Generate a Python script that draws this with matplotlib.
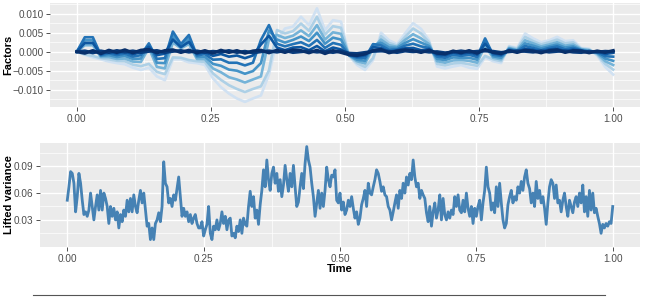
import numpy as np
import matplotlib
matplotlib.use("Agg")
import matplotlib.pyplot as plt
from matplotlib.lines import Line2D

plt.rcParams['font.family'] = ['Liberation Sans', 'DejaVu Sans']

# ---------------- top panel: factors (values in thousandths) ----------------
factor_1 = [0.0, -0.8, -1.5, -2.0, -2.6, -3.0, -3.3, -4.2, -4.8, -4.2, -6.5, -7.5, -2.0, -2.0, -2.8, -3.0, -3.5,
            -7.0, -9.3, -11.0, -12.3, -13.2, -12.3, -11.5, -6.0, 3.0, 6.1, 6.6, 9.2, 7.0, 11.4, 5.7, 8.3, 7.9,
            -1.0, -3.5, -4.8, -2.2, 5.0, 3.0, 2.0, 4.8, 7.5, 6.0, 3.0, -3.9, -4.4, -3.9, -3.5, -4.2, -4.5, -1.5,
            -2.5, -3.0, 1.5, 1.0, 4.8, 3.5, 2.5, 3.0, 3.9, 2.8, 3.0, 1.0, 0.8, -1.0, -4.0, -6.0]
factor_2 = [0.0, -0.7, -1.1, -1.7, -2.0, -2.4, -2.5, -3.4, -3.8, -3.2, -5.3, -5.9, -1.5, -1.6, -2.2, -2.5, -2.7,
            -5.7, -7.4, -8.8, -9.8, -10.6, -9.8, -9.1, -4.9, 5.7, 4.8, 5.4, 7.4, 5.5, 9.2, 4.5, 6.7, 6.3,
            -1.0, -3.0, -4.0, -1.7, 4.1, 2.3, 1.6, 3.9, 6.1, 4.8, 2.5, -3.2, -3.6, -3.1, -2.9, -3.3, -3.7, -1.1,
            -2.0, -2.5, 1.3, 0.8, 3.9, 2.8, 1.9, 2.5, 3.2, 2.2, 2.5, 0.8, 0.6, -0.8, -3.2, -4.7]
factor_3 = [0.0, 1.7, 1.7, -1.4, -1.4, -1.9, -1.8, -2.6, -2.7, 1.0, -4.0, -4.4, 2.4, 0.9, 2.0, -1.9, -2.0,
            -4.4, -5.4, -6.7, -7.3, -8.1, -7.3, -6.5, 3.2, 4.4, 3.6, 4.2, 5.6, 4.1, 7.0, 3.2, 5.1, 4.7,
            -0.9, -2.5, -3.1, 0.9, 3.2, 1.7, 1.3, 3.1, 4.6, 3.5, 2.0, -2.5, -2.9, -2.3, -2.2, -2.4, -2.9, 1.6,
            -1.6, -2.0, 1.0, 0.5, 3.0, 2.2, 1.4, 1.9, 2.5, 1.6, 1.9, 0.7, 0.4, -0.5, -2.5, -3.5]
factor_4 = [0.0, 3.0, 3.0, -1.1, -0.9, -1.4, -1.1, -1.9, -1.8, 1.8, -2.9, -3.0, 4.2, 1.6, 3.5, -1.4, -1.3,
            -3.2, -3.7, -4.7, -5.0, -5.8, -5.1, -3.0, 5.6, 3.2, 2.4, 3.1, 4.0, 2.8, 5.0, 2.1, 3.7, 3.2,
            -0.9, -2.1, -2.4, 1.6, 2.4, 1.1, 1.0, 2.3, 3.3, 2.4, 1.5, -1.9, -2.2, -1.5, -1.6, -1.6, -2.1, 2.8,
            -1.2, -1.6, 0.8, 0.3, 2.2, 1.6, 0.9, 1.4, 1.9, 1.1, 1.4, 0.5, 0.2, -0.3, -1.8, -2.4]
factor_5 = [0.0, 3.8, 3.8, -0.9, -0.4, -0.9, -0.5, -1.3, -0.9, 2.2, -1.9, -1.7, 5.3, 2.0, 4.4, -1.0, -0.6,
            -2.1, -2.0, -2.9, -2.9, -3.6, -2.9, 3.1, 7.0, 2.1, 1.4, 2.0, 2.5, 1.5, 3.1, 1.0, 2.3, 1.8,
            -0.9, -1.6, -1.7, 2.0, 1.7, 0.5, 0.6, 1.6, 2.1, 1.4, 1.0, -1.3, -1.6, -0.8, -1.1, -0.8, -1.4, 3.5,
            -0.8, -1.1, 0.6, 0.1, 1.5, 1.0, 0.4, 1.0, 1.4, 0.6, 1.0, 0.4, 0.0, -0.1, -1.2, -1.3]
factor_6 = [0.0, 2.3, 2.3, -0.7, 0.1, -0.5, 0.1, -0.7, -0.1, 1.3, -0.9, -0.5, 3.2, 1.2, 2.6, -0.6, -0.1,
            -1.1, -0.6, -1.3, -1.0, -1.7, -1.0, 1.9, 4.2, 1.1, 0.4, 1.1, 1.2, 0.4, 1.5, 0.1, 1.1, 0.6,
            -0.8, -1.3, -1.0, 1.2, 1.0, 0.0, 0.4, 0.9, 1.0, 0.4, 0.7, -0.8, -1.0, -0.2, -0.6, -0.2, -0.8, 2.1,
            -0.4, -0.8, 0.4, -0.1, 0.8, 0.5, 0.0, 0.6, 0.8, 0.1, 0.6, 0.3, -0.2, 0.1, -0.6, -0.3]
factor_7 = [0.0, 0.2, -0.3, 0.2, -0.2, 0.3, -0.1, 0.2, -0.2, 0.1, 0.3, -0.2, 0.1, 0.3, -0.1, 0.2, -0.2,
            0.1, -0.1, 0.3, -0.2, 0.1, -0.3, 0.0, 0.2, -0.1, 0.3, -0.2, 0.0, 0.2, -0.1, 0.1, -0.2, 0.2,
            -0.4, -0.5, -0.2, 0.1, 0.2, 0.1, -0.2, 0.2, 0.0, 0.2, -0.1, 0.0, -0.3, -0.1, 0.2, -0.1, 0.1, 0.2,
            0.1, -0.2, 0.0, 0.2, 0.1, -0.1, 0.2, -0.1, 0.1, 0.2, -0.1, -0.2, 0.1, -0.1, 0.1, 0.0]
factor_8 = [0.0, -0.4, 0.3, -0.5, 0.4, -0.2, 0.5, -0.3, 0.4, 0.6, -0.3, 0.3, 0.5, -0.2, 0.4, -0.3, 0.3,
            -0.4, 0.4, -0.2, 0.3, -0.4, 0.2, 0.4, -0.3, 0.4, -0.2, 0.5, 0.3, -0.3, 0.4, -0.5, 0.3, -0.2,
            -0.8, -1.0, -0.6, 0.3, 0.6, -0.3, 0.2, 0.5, 0.3, -0.2, 0.4, -0.4, -0.6, 0.2, -0.3, 0.3, -0.4, 0.6,
            -0.2, -0.5, 0.3, -0.2, 0.4, 0.2, -0.3, 0.3, 0.5, -0.2, 0.3, 0.2, -0.3, 0.2, -0.2, 0.3]
factor_series = [factor_1, factor_2, factor_3, factor_4, factor_5, factor_6, factor_7, factor_8]
factor_shades = [0.2, 0.33, 0.48, 0.62, 0.74, 0.85, 0.95, 1.0]

top_yticks = [-0.010, -0.005, 0.000, 0.005, 0.010]
top_yticklabels = ["\u22120.010", "\u22120.005", "0.000", "0.005", "0.010"]
xticks = [0.00, 0.25, 0.50, 0.75, 1.00]
xticklabels = ["0.00", "0.25", "0.50", "0.75", "1.00"]

# ---------------- bottom panel: lifted variance ----------------
lifted_variance = [
    .052, .067, .084, .082, .071, .039, .056, .082, .071, .052,
    .036, .039, .034, .041, .060, .045, .030, .045, .058, .041,
    .063, .041, .060, .054, .045, .026, .045, .034, .043, .030,
    .039, .021, .036, .028, .041, .034, .052, .039, .054, .039,
    .058, .045, .038, .052, .063, .049, .060, .041, .023, .026,
    .008, .021, .008, .026, .030, .038, .028, .045, .095, .071,
    .067, .049, .054, .045, .058, .052, .065, .078, .056, .034,
    .043, .034, .039, .028, .036, .026, .032, .036, .026, .021,
    .021, .028, .012, .019, .025, .045, .015, .008, .023, .019,
    .030, .019, .026, .039, .026, .034, .019, .030, .032, .012,
    .015, .010, .023, .017, .030, .015, .032, .025, .023, .045,
    .062, .045, .056, .032, .041, .025, .047, .063, .086, .067,
    .097, .075, .063, .082, .089, .071, .082, .062, .075, .056,
    .069, .091, .075, .062, .082, .067, .091, .067, .045, .050,
    .067, .082, .065, .093, .112, .097, .089, .071, .056, .034,
    .049, .063, .043, .060, .045, .063, .089, .075, .067, .080,
    .078, .086, .052,
    .049, .060, .041, .050, .036, .041, .052, .045, .056, .043,
    .032, .039, .025, .032, .047, .054, .063, .045, .071, .060,
    .058, .067, .075, .086, .082, .073, .062, .067, .058, .056,
    .045, .041, .030, .039, .049, .058, .043, .063, .054, .071,
    .060, .078, .069, .082, .075, .097, .078, .067, .071, .054,
    .063, .058, .054, .038, .028, .045, .023, .039, .049, .032,
    .041, .058, .030, .054, .036, .030, .039, .032, .041, .036,
    .056, .045, .058, .041, .038, .052, .039, .060, .043, .034,
    .045, .026, .043,
    .034, .045, .052, .030, .049, .063, .089, .067, .060, .041,
    .049, .038, .067, .045, .071, .049, .030, .021, .026, .047,
    .056, .063, .049, .056, .052, .067, .060, .073, .063, .078,
    .086, .071, .065, .049, .060, .045, .073, .054, .063, .049,
    .056, .043, .025, .049, .067, .075, .071, .054, .069, .049,
    .052, .039, .052, .060, .045, .034, .052, .045, .038, .050,
    .056, .045, .060, .049, .069, .039, .056, .034, .063, .041,
    .060, .038, .043, .034, .026, .015, .025, .021, .026, .023,
    .028, .026, .045]
bottom_yticks = [0.03, 0.06, 0.09]
bottom_yticklabels = ["0.03", "0.06", "0.09"]

W, H = 645, 297
fig = plt.figure(figsize=(W / 100, H / 100), dpi=100)
fig.patch.set_facecolor('white')

def px_axes(left, top, right, bottom):
    return fig.add_axes([left / W, 1 - bottom / H, (right - left) / W, (bottom - top) / H])

def style(ax):
    ax.set_facecolor('#EBEBEB')
    for s in ax.spines.values():
        s.set_visible(False)
    ax.grid(True, which='major', color='white', linewidth=1.0)
    ax.grid(True, which='minor', color='white', linewidth=0.5)
    ax.set_axisbelow(True)
    ax.tick_params(which='major', length=2.75, width=0.6, color='#333333',
                   labelcolor='#4D4D4D', labelsize=7.2, pad=2)
    ax.tick_params(which='minor', length=0)

# top
ax1 = px_axes(50, 3, 640, 107)
style(ax1)
t_top = np.linspace(0, 1, len(factor_1))
for k, (vals, shade) in enumerate(zip(factor_series, factor_shades)):
    lw = 2.3 if k >= 6 else 1.9
    ax1.plot(t_top, np.array(vals) * 1e-3, color=plt.cm.Blues(shade), linewidth=lw,
             solid_joinstyle='round')
ax1.set_xlim(-0.05, 1.05)
ax1.set_ylim(-0.01454, 0.01281)
ax1.set_xticks(xticks)
ax1.set_xticklabels(xticklabels)
ax1.set_xticks([0.125, 0.375, 0.625, 0.875], minor=True)
ax1.set_yticks(top_yticks)
ax1.set_yticklabels(top_yticklabels)
ax1.set_yticks([-0.0125, -0.0075, -0.0025, 0.0025, 0.0075, 0.0125], minor=True)

# bottom
ax2 = px_axes(40, 143, 640, 247)
style(ax2)
t_bot = np.linspace(0, 1, len(lifted_variance))
ax2.plot(t_bot, lifted_variance, color='#4682B4', linewidth=2.0, solid_joinstyle='round')
ax2.set_xlim(-0.05, 1.05)
ax2.set_ylim(-0.0003, 0.116)
ax2.set_xticks(xticks)
ax2.set_xticklabels(xticklabels)
ax2.set_xticks([0.125, 0.375, 0.625, 0.875], minor=True)
ax2.set_yticks(bottom_yticks)
ax2.set_yticklabels(bottom_yticklabels)
ax2.set_yticks([0.015, 0.045, 0.075, 0.105], minor=True)

# axis titles
fig.text(8 / W, 1 - 55 / H, "Factors", rotation=90, ha='center', va='center',
         fontsize=8, fontweight='bold', color='black')
fig.text(9 / W, 1 - 195 / H, "Lifted variance", rotation=90, ha='center', va='center',
         fontsize=8, fontweight='bold', color='black')
fig.text(340 / W, 1 - 269 / H, "Time", ha='center', va='center',
         fontsize=8, fontweight='bold', color='black')

# cut-off rule at the bottom
fig.add_artist(Line2D([33 / W, 605 / W], [1 - 295 / H, 1 - 295 / H],
                      color='#555555', linewidth=0.8))

fig.savefig("out.png", dpi=100)
